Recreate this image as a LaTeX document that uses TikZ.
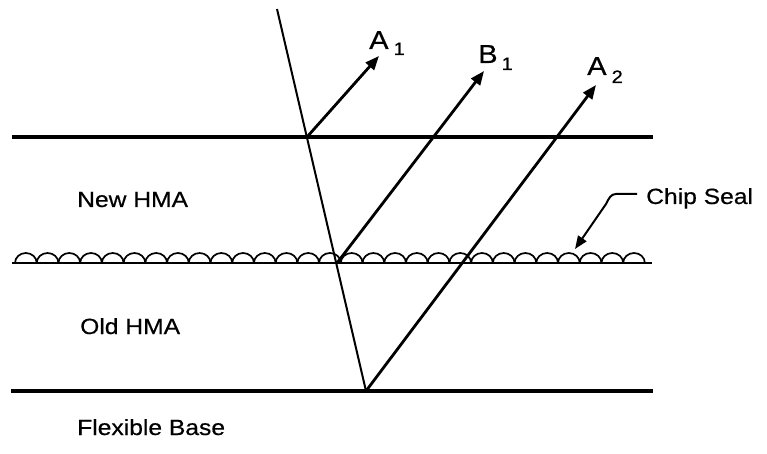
\documentclass[tikz,border=0pt]{standalone}
\usepackage{fontspec}
\setmainfont[FakeStretch=1.12,FakeBold=0.5]{Liberation Sans}
\usetikzlibrary{arrows.meta}
\begin{document}
\begin{tikzpicture}[x=1pt,y=-1pt,
  interface/.style={line width=4.2pt},
  sealline/.style={line width=2.2pt},
  bump/.style={line width=1.7pt},
  ray/.style={line width=2pt},
  wave/.style={line width=2.8pt,-{Triangle[length=14pt,width=11pt]}},
  leader/.style={line width=2pt,-{Triangle[length=13pt,width=10pt]}},
  layertext/.style={anchor=base west,inner sep=0pt,font=\fontsize{22}{26}\selectfont},
  wavetext/.style={anchor=base west,inner sep=0pt,font=\fontsize{26}{28}\selectfont}]
\useasboundingbox (0,0) rectangle (767,454);
% interfaces
\coordinate (tl) at (12,137);  \coordinate (tr) at (653,137);
\coordinate (ml) at (12,263);  \coordinate (mr) at (652,263);
\coordinate (bl) at (11,391);  \coordinate (br) at (653,391);
\draw[interface] (tl) -- (tr);
\draw[sealline] (ml) -- (mr);
\draw[interface] (bl) -- (br);
% chip seal bumps
\foreach \i in {0,...,28}
  \draw[bump] (15+\i*21.72,263) arc[start angle=180,end angle=360,x radius=10.86,y radius=10];
% incident ray
\coordinate (src) at (277,9);
\coordinate (p1) at (307,137);
\coordinate (p2) at (337,263);
\coordinate (p3) at (366,391);
\draw[ray] (src) -- (p3);
% reflected waves
\coordinate (t1) at (379,56);
\coordinate (t2) at (484,71);
\coordinate (t3) at (596,85);
\draw[wave] (p1) -- (t1);
\draw[wave] (p2) -- (t2);
\draw[wave] (p3) -- (t3);
\node[wavetext] (la1) at (369,49) {A\kern5pt\raisebox{-6pt}{\fontsize{18}{20}\selectfont 1}};
\node[wavetext] (lb1) at (478,63) {B\kern4pt\raisebox{-7pt}{\fontsize{18}{20}\selectfont 1}};
\node[wavetext] (la2) at (587,75) {A\kern5pt\raisebox{-8pt}{\fontsize{18}{20}\selectfont 2}};
% layer labels
\node[layertext] (new) at (77,207) {New HMA};
\node[layertext] (old) at (80,334) {Old HMA};
\node[layertext] (base) at (77,435) {Flexible Base};
\node[layertext] (chip) at (646,204) {Chip Seal};
\coordinate (ls) at (637,194);
\coordinate (lt) at (575,249);
\draw[leader] (ls) -- (616,194) .. controls (611,194) and (609,198) .. (606,204) -- (lt);
\end{tikzpicture}
\end{document}
